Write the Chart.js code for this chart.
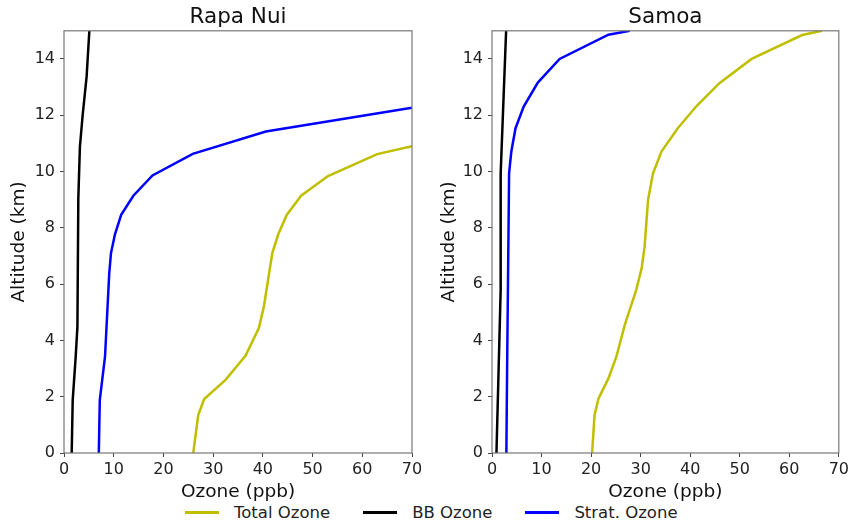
<!DOCTYPE html>
<html>
<head>
<meta charset="utf-8">
<script src="https://cdn.jsdelivr.net/npm/chart.js@4.4.1/dist/chart.umd.min.js"></script>
<style>
  body { margin: 0; background: #fff; font-family: "DejaVu Sans", sans-serif; }
  #wrap { position: relative; width: 852px; height: 521px; }
  #c1 { position: absolute; left: 0; top: 0; }
  #c2 { position: absolute; left: 430px; top: 0; }
  #legend { position: absolute; left: 185px; top: 503px; height: 18px; display: flex; align-items: center; font-size: 16.5px; color: #222; }
  .item { display: flex; align-items: center; margin-right: 33px; }
  .sw { width: 34px; height: 3px; margin-right: 15px; }
</style>
</head>
<body>
<div id="wrap">
  <canvas id="c1" width="430" height="503"></canvas>
  <canvas id="c2" width="422" height="503"></canvas>
  <div id="legend"></div>
</div>
<script>
var xTicks = [0, 10, 20, 30, 40, 50, 60, 70];
var yTicks = [0, 2, 4, 6, 8, 10, 12, 14];

// Rapa Nui
var rnTotalAlt = [0, 1.35, 1.92, 2.6, 3.45, 4.44, 5.2, 7.1, 7.77, 8.46, 9.14, 9.84, 10.62, 10.9];
var rnTotal = [26, 27, 28.2, 32.5, 36.5, 39.2, 40.2, 41.9, 43.1, 44.8, 47.7, 53.1, 63, 70];
var rnBBAlt = [0, 1.88, 3.42, 4.49, 9.05, 10.88, 12.0, 13.37, 15];
var rnBB = [1.55, 1.75, 2.35, 2.7, 2.88, 3.2, 3.75, 4.55, 5.1];
var rnStratAlt = [0, 1.88, 3.42, 6.38, 7.1, 7.77, 8.46, 9.14, 9.86, 10.63, 11.42, 12.27];
var rnStrat = [7.0, 7.2, 8.25, 9.1, 9.45, 10.25, 11.5, 13.95, 17.8, 25.9, 40.6, 70];

// Samoa
var smTotalAlt = [0, 1.35, 1.94, 2.65, 3.42, 4.55, 5.79, 6.56, 7.33, 9.0, 9.94, 10.71, 11.54, 12.31, 13.14, 14.0, 14.85, 15.0];
var smTotal = [20.2, 20.7, 21.5, 23.5, 25.1, 26.8, 29.1, 30.2, 30.8, 31.5, 32.5, 34.2, 37.5, 41.2, 45.9, 52.4, 62.6, 66.6];
var smBBAlt = [0, 5.8, 9.94, 15];
var smBB = [0.9, 1.75, 1.75, 2.85];
var smStratAlt = [0, 3.0, 9.94, 10.71, 11.54, 12.31, 13.16, 14.0, 14.86, 15.0];
var smStrat = [2.9, 3.05, 3.45, 3.9, 4.75, 6.4, 9.25, 13.65, 23.5, 27.8];

var names = ['Total Ozone', 'BB Ozone', 'Strat. Ozone'];
var colors = ['#bfbf00', '#000000', '#0000ff'];

function pts(xs, ys) {
  return xs.map(function(v, i) { return { x: v, y: ys[i] }; });
}

var frame = {
  id: 'frame',
  afterDatasetsDraw: function(chart) {
    var a = chart.chartArea, ctx = chart.ctx;
    ctx.save();
    ctx.strokeStyle = '#777';
    ctx.lineWidth = 1.2;
    ctx.strokeRect(a.left, a.top, a.right - a.left, a.bottom - a.top);
    ctx.restore();
  }
};

function makeChart(id, title, sets, yWidth, padRight) {
  var ds = sets.map(function(s, i) {
    return { label: names[i], data: pts(s[0], s[1]), borderColor: colors[i], backgroundColor: colors[i],
      borderWidth: 2.5, pointRadius: 0, showLine: true, tension: 0 };
  });
  return new Chart(document.getElementById(id), {
    type: 'scatter',
    data: { datasets: ds },
    options: {
      responsive: false, animation: false,
      layout: { padding: { left: 0, right: padRight, top: 0, bottom: 0 } },
      plugins: {
        legend: { display: false }, tooltip: { enabled: false },
        title: { display: true, fullSize: false, text: title, color: '#111', font: { family: 'DejaVu Sans', size: 21.5, weight: 'normal' }, padding: { top: 5, bottom: 0 } }
      },
      scales: {
        x: {
          type: 'linear', min: 0, max: 70,
          afterBuildTicks: function(s) { s.ticks = xTicks.map(function(v) { return { value: v }; }); },
          afterFit: function(s) { s.height = 50; },
          grid: { drawOnChartArea: false, drawTicks: true, tickLength: 4, color: '#444' },
          border: { display: false },
          ticks: { color: '#222', padding: 3, maxRotation: 0, font: { family: 'DejaVu Sans', size: 16 } },
          title: { display: true, text: 'Ozone (ppb)', color: '#111', padding: { top: 0, bottom: 0 }, font: { family: 'DejaVu Sans', size: 18.5 } }
        },
        y: {
          type: 'linear', min: 0, max: 15,
          afterBuildTicks: function(s) { s.ticks = yTicks.map(function(v) { return { value: v }; }); },
          afterFit: function(s) { s.width = yWidth; },
          grid: { drawOnChartArea: false, drawTicks: true, tickLength: 4, color: '#444' },
          border: { display: false },
          ticks: { color: '#222', padding: 5, font: { family: 'DejaVu Sans', size: 16 } },
          title: { display: true, text: 'Altitude (km)', color: '#111', padding: { top: 8, bottom: 0 }, font: { family: 'DejaVu Sans', size: 18.5 } }
        }
      }
    },
    plugins: [frame]
  });
}

makeChart('c1', 'Rapa Nui', [[rnTotal, rnTotalAlt], [rnBB, rnBBAlt], [rnStrat, rnStratAlt]], 64, 18);
makeChart('c2', 'Samoa', [[smTotal, smTotalAlt], [smBB, smBBAlt], [smStrat, smStratAlt]], 62, 10);

var leg = document.getElementById('legend');
names.forEach(function(n, i) {
  var it = document.createElement('div');
  it.className = 'item';
  it.innerHTML = '<div class="sw" style="background:' + colors[i] + '"></div><span>' + n + '</span>';
  leg.appendChild(it);
});
</script>
</body>
</html>
